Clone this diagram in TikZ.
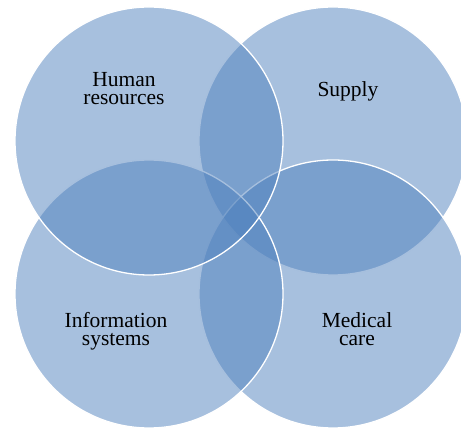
\documentclass[tikz,border=0pt]{standalone}
\usepackage{fontspec}
\setmainfont{Liberation Serif}
\usepackage{tikz}
\definecolor{vennblue}{rgb}{0.31,0.506,0.741}
\tikzset{
	venn/.style={fill=vennblue,fill opacity=0.5,draw=white,line width=1.3pt},
	lbl/.style={align=center,font=\fontsize{21.5}{18}\selectfont,text=black}
}
\begin{document}
\begin{tikzpicture}[line cap=round,line join=round,x=1pt,y=-1pt]
	\useasboundingbox (0,0) rectangle (461,430);
	\clip (0,0) rectangle (461,430);
	\path [venn] (333,141) circle (134);
	\path [venn] (333,294) circle (134);
	\path [venn] (149,294) circle (134);
	\path [venn] (149,141) circle (134);
	\node[lbl] (hr) at (124,89) {Human\\resources};
	\node[lbl] (sup) at (348,91) {Supply};
	\node[lbl] (info) at (116,331) {Information\\systems};
	\node[lbl] (med) at (357,329) {Medical\\care};
\end{tikzpicture}
\end{document}
